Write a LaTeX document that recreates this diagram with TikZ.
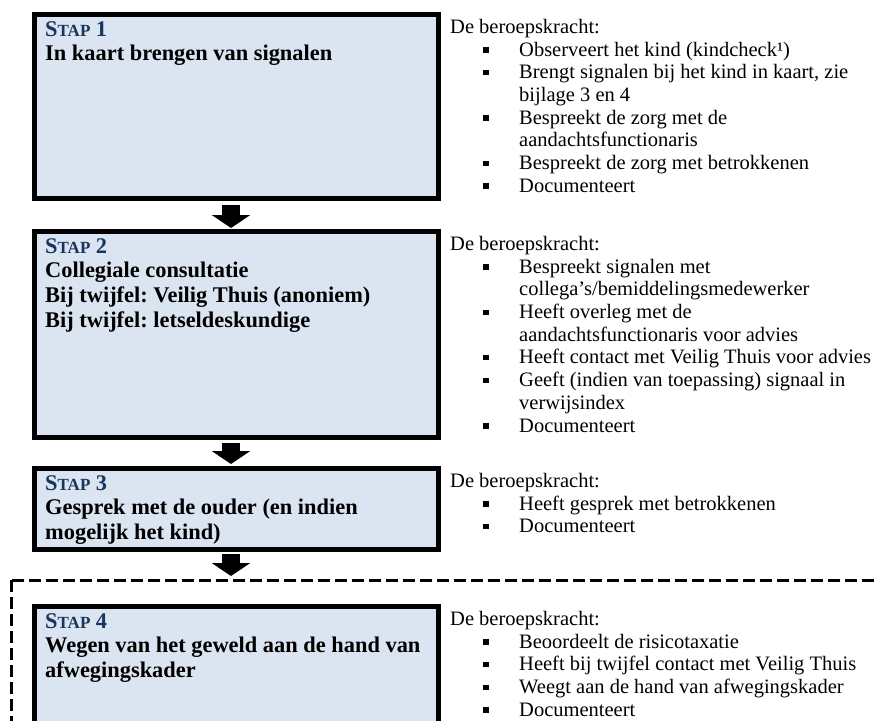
\documentclass[tikz,border=0pt]{standalone}
\usepackage{fontspec}
\setmainfont{Liberation Serif}
\usetikzlibrary{arrows.meta}
\usetikzlibrary{calc,positioning}
\frenchspacing

\definecolor{stapvul}{RGB}{219,229,241}
\definecolor{stapblauw}{RGB}{23,54,93}

\newcommand{\stap}[1]{\textcolor{stapblauw}{S{\fontsize{17}{20}\selectfont TAP} #1}}
\newcommand{\blt}{\makebox[69pt][l]{\hspace*{33pt}\rule[3.5pt]{5.5pt}{5.5pt}}}
\newcommand{\vrv}{\hspace*{69pt}}

\begin{document}
\begin{tikzpicture}[x=1pt, y=-1pt,
    stapbox/.style={draw, line width=5pt, fill=stapvul, minimum width=404pt, inner sep=0pt},
    kop/.style={anchor=north west, inner sep=0pt, align=left, font=\fontsize{22.4}{24.7}\selectfont\bfseries,
        execute at begin node={\rule{0pt}{18pt}}},
    uitleg/.style={anchor=north west, inner sep=0pt, align=left, font=\fontsize{20.5}{22.7}\selectfont,
        execute at begin node={\rule{0pt}{16pt}}},
    blokpijl/.style={line width=18pt, -{Triangle[width=38pt,length=13pt]}}]
    \useasboundingbox (0,0) rectangle (875,720);

    % kader om stap 4
    \draw[line width=3pt, dash pattern=on 12pt off 5pt] (11.5,580) coordinate (kader) rectangle (900,760);

    % stappen
    \node[stapbox, minimum height=184pt, anchor=north west] (stap1) at (32,12) {};
    \node[stapbox, minimum height=206pt, below=28pt of stap1] (stap2) {};
    \node[stapbox, minimum height=81pt, below=26pt of stap2] (stap3) {};
    \node[stapbox, minimum height=135pt, below=52pt of stap3] (stap4) {};

    % titels
    \node[kop] (kop1) at ($(stap1.north west)+(13,9)$) {\stap{1}\\In kaart brengen van signalen};
    \node[kop] (kop2) at ($(stap2.north west)+(13,9)$) {\stap{2}\\Collegiale consultatie\\Bij twijfel: Veilig Thuis (anoniem)\\Bij twijfel: letseldeskundige};
    \node[kop] (kop3) at ($(stap3.north west)+(13,9)$) {\stap{3}\\Gesprek met de ouder (en indien\\mogelijk het kind)};
    \node[kop] (kop4) at ($(stap4.north west)+(13,9)$) {\stap{4}\\Wegen van het geweld aan de hand van\\afwegingskader};

    % wat de beroepskracht doet
    \node[uitleg] (uitleg1) at ($(stap1.north east)+(9,7)$) {De beroepskracht:\\
        \blt Observeert het kind (kindcheck¹)\\
        \blt Brengt signalen bij het kind in kaart, zie\\
        \vrv bijlage 3 en 4\\
        \blt Bespreekt de zorg met de\\
        \vrv aandachtsfunctionaris\\
        \blt Bespreekt de zorg met betrokkenen\\
        \blt Documenteert};
    \node[uitleg] (uitleg2) at ($(stap2.north east)+(9,7)$) {De beroepskracht:\\
        \blt Bespreekt signalen met\\
        \vrv collega’s/bemiddelingsmedewerker\\
        \blt Heeft overleg met de\\
        \vrv aandachtsfunctionaris voor advies\\
        \blt Heeft contact met Veilig Thuis voor advies\\
        \blt Geeft (indien van toepassing) signaal in\\
        \vrv verwijsindex\\
        \blt Documenteert};
    \node[uitleg] (uitleg3) at ($(stap3.north east)+(9,7)$) {De beroepskracht:\\
        \blt Heeft gesprek met betrokkenen\\
        \blt Documenteert};
    \node[uitleg] (uitleg4) at ($(stap4.north east)+(9,7)$) {De beroepskracht:\\
        \blt Beoordeelt de risicotaxatie\\
        \blt Heeft bij twijfel contact met Veilig Thuis\\
        \blt Weegt aan de hand van afwegingskader\\
        \blt Documenteert};

    % pijlen
    \draw[blokpijl] ([xshift=-5.5pt,yshift=-4pt]stap1.south) -- ([xshift=-5.5pt,yshift=1pt]stap2.north);
    \draw[blokpijl] ([xshift=-5.5pt,yshift=-3pt]stap2.south) -- ([xshift=-5.5pt,yshift=2pt]stap3.north);
    \draw[blokpijl] ([xshift=-5.5pt,yshift=-2pt]stap3.south) -- ([xshift=-5.5pt,yshift=4pt]stap3.south |- kader);

\end{tikzpicture}
\end{document}
